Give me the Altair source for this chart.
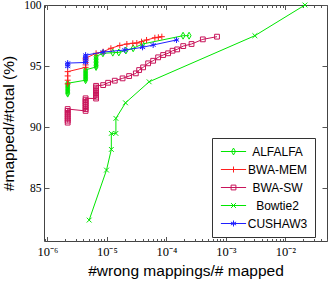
import altair as alt
import pandas as pd

# ---------------- data ----------------
series_names = ["ALFALFA", "BWA-MEM", "BWA-SW", "Bowtie2", "CUSHAW3"]
series_colors = ["#00e600", "#ff1f1f", "#c8145a", "#00e600", "#1f1fff"]

alfalfa_x = [2.2e-6, 2.2e-6, 2.2e-6, 2.2e-6, 2.2e-6, 2.2e-6, 2.2e-6, 2.2e-6,
             4.4e-6, 4.4e-6, 4.4e-6, 4.4e-6, 4.4e-6, 4.4e-6, 4.4e-6, 4.4e-6,
             6.6e-6, 6.6e-6, 6.6e-6, 6.6e-6, 6.6e-6, 6.6e-6, 6.6e-6, 6.6e-6,
             8.6e-6, 1.26e-5, 1.59e-5, 2.09e-5, 2.77e-5, 3.98e-5, 1.91e-4, 2.41e-4]
alfalfa_y = [92.75, 92.87, 92.99, 93.11, 93.23, 93.35, 93.47, 93.60,
             93.85, 93.97, 94.09, 94.21, 94.33, 94.45, 94.57, 94.70,
             94.93, 95.05, 95.17, 95.29, 95.41, 95.53, 95.66, 95.80,
             96.05, 96.10, 96.12, 96.28, 96.46, 96.81, 97.49, 97.49]

bwamem_x = [2.2e-6, 2.2e-6, 2.2e-6, 2.2e-6,
            4.4e-6, 4.4e-6, 4.4e-6, 4.4e-6, 4.4e-6,
            6.6e-6, 8.67e-6, 1.17e-5, 1.65e-5, 2.17e-5, 2.73e-5, 3.19e-5,
            3.83e-5, 4.65e-5, 6.41e-5, 7.34e-5, 8.4e-5]
bwamem_y = [93.55, 93.85, 94.20, 94.55,
            94.90, 95.10, 95.30, 95.50, 95.65,
            96.05, 96.18, 96.46, 96.69, 96.81, 96.87, 96.89,
            97.00, 97.14, 97.32, 97.36, 97.41]

bwasw_x = [2.2e-6, 2.2e-6, 2.2e-6, 2.2e-6, 2.2e-6, 2.2e-6, 2.2e-6, 2.2e-6,
           4.4e-6, 4.4e-6, 4.4e-6, 4.4e-6, 4.4e-6, 4.4e-6, 4.4e-6, 4.4e-6,
           6.6e-6, 6.6e-6, 6.6e-6, 6.6e-6, 6.6e-6, 6.6e-6, 6.6e-6, 6.6e-6,
           8.67e-6, 1.05e-5, 1.36e-5, 1.84e-5, 2.37e-5, 3.07e-5, 3.49e-5,
           4.07e-5, 4.94e-5, 6.0e-5, 7.28e-5, 8.83e-5, 1.07e-4, 1.27e-4,
           1.52e-4, 1.92e-4, 2.65e-4, 4.1e-4, 7.1e-4]
bwasw_y = [90.38, 90.54, 90.70, 90.86, 91.02, 91.18, 91.34, 91.49,
           91.34, 91.49, 91.64, 91.79, 91.94, 92.08, 92.22, 92.37,
           92.35, 92.50, 92.65, 92.80, 92.95, 93.10, 93.25, 93.39,
           93.45, 93.64, 93.81, 94.00, 94.19, 94.41, 94.68,
           94.90, 95.23, 95.44, 95.72, 95.91, 96.05, 96.26,
           96.37, 96.64, 96.81, 97.19, 97.41]

bowtie2_x = [5.05e-6, 9.88e-6, 1.19e-5, 1.19e-5, 1.42e-5, 1.42e-5,
             2.06e-5, 5.14e-5, 3.07e-3, 2.13e-2]
bowtie2_y = [82.41, 86.50, 88.19, 89.50, 89.50, 90.73,
             92.00, 93.72, 97.49, 100.0]

cushaw3_x = [2.2e-6, 2.2e-6, 2.2e-6,
             4.4e-6, 4.4e-6, 4.4e-6, 4.4e-6, 4.4e-6,
             8.67e-6, 2.01e-5, 3.98e-5, 6.0e-5, 1.48e-4]
cushaw3_y = [94.98, 95.12, 95.25,
             95.30, 95.45, 95.60, 95.75, 95.90,
             96.15, 96.32, 96.54, 96.73, 97.14]

x_tick_values = [1e-6, 1e-5, 1e-4, 1e-3, 1e-2]
x_tick_labels = ["10⁻⁶", "10⁻⁵", "10⁻⁴", "10⁻³", "10⁻²"]
y_tick_values = [85, 90, 95, 100]

x_domain = [8.8e-7, 0.05]
y_domain = [80.7, 100]

# ---------------- styling ----------------
marker_paths = [
    "M0,-1.15L0.65,0L0,1.15L-0.65,0Z",                              # diamond
    "M-1,0L1,0M0,-1L0,1",                                             # plus
    "M-0.8,-0.8L0.8,-0.8L0.8,0.8L-0.8,0.8Z",                          # square
    "M-0.8,-0.8L0.8,0.8M-0.8,0.8L0.8,-0.8",                           # x
    "M0,-1L0,1M-0.87,-0.5L0.87,0.5M-0.87,0.5L0.87,-0.5",              # asterisk
]
legend_paths = ["M-4.2,0L4.2,0" + p for p in marker_paths]

minor_vals = [k * 10.0 ** e for e in range(-7, -1) for k in range(2, 10)
              if x_domain[0] <= k * 10.0 ** e <= x_domain[1]]

all_x = [alfalfa_x, bwamem_x, bwasw_x, bowtie2_x, cushaw3_x]
all_y = [alfalfa_y, bwamem_y, bwasw_y, bowtie2_y, cushaw3_y]
rows = []
for name, xs, ys in zip(series_names, all_x, all_y):
    for i, (a, b) in enumerate(zip(xs, ys)):
        rows.append({"series": name, "x": a, "y": b, "idx": i})
df = pd.DataFrame(rows)

label_expr = "[" + ",".join("'%s'" % s for s in x_tick_labels) + "][round(log(datum.value)/LN10) + 6]"

xscale = alt.Scale(type="log", domain=x_domain, nice=False)
yscale = alt.Scale(domain=y_domain, nice=False, zero=False)
cscale = alt.Scale(domain=series_names, range=series_colors)

TICK = "#555555"
LABEL_FONT = "Liberation Serif"
TITLE_FONT = "Liberation Sans"

x_main = alt.Axis(values=x_tick_values, labelExpr=label_expr, orient="bottom",
                  offset=-4.5, tickSize=4.5, domain=False, grid=False,
                  labelPadding=4, labelFlush=False, labelOverlap=False,
                  labelFont=LABEL_FONT, labelFontSize=12.5, labelColor="black",
                  tickColor=TICK, title="#wrong mappings/# mapped",
                  titleFont=TITLE_FONT, titleFontSize=15.5, titleFontWeight="normal",
                  titleColor="black", titlePadding=6)
y_main = alt.Axis(values=y_tick_values, orient="left", offset=-5, tickSize=5,
                  domain=False, grid=False, labelPadding=3,
                  labelFont=LABEL_FONT, labelFontSize=11.5, labelColor="black",
                  tickColor=TICK, title="#mapped/#total (%)",
                  titleFont=TITLE_FONT, titleFontSize=15.5, titleFontWeight="normal",
                  titleColor="black", titlePadding=7.5)
x_top = alt.Axis(values=x_tick_values, orient="top", offset=-4.5, tickSize=4.5,
                 domain=False, grid=False, labels=False, title=None, tickColor=TICK)
y_right = alt.Axis(values=y_tick_values, orient="right", offset=-5, tickSize=5,
                   domain=False, grid=False, labels=False, title=None, tickColor=TICK)
x_minor_b = alt.Axis(values=minor_vals, orient="bottom", offset=-2.5, tickSize=2.5,
                     domain=False, grid=False, labels=False, title=None, tickColor=TICK)
x_minor_t = alt.Axis(values=minor_vals, orient="top", offset=-2.5, tickSize=2.5,
                     domain=False, grid=False, labels=False, title=None, tickColor=TICK)

base = alt.Chart(df)

series_layers = []
for k, (name, col, path) in enumerate(zip(series_names, series_colors, marker_paths)):
    series_layers.append(
        base.transform_filter(alt.datum.series == name).mark_line(
            strokeWidth=1, color=col,
            point=alt.OverlayMarkDef(filled=False, strokeWidth=1, size=36, opacity=1,
                                     shape=path, color=col),
        ).encode(
            x=alt.X("x:Q", scale=xscale, axis=x_main if k == 0 else None),
            y=alt.Y("y:Q", scale=yscale, axis=y_main if k == 0 else None),
            order=alt.Order("idx:Q"),
        )
    )

empty = base.transform_filter("false")
frame_ticks = empty.mark_point(opacity=0).encode(
    x=alt.X("x:Q", scale=xscale, axis=x_top),
    y=alt.Y("y:Q", scale=yscale, axis=y_right),
)
minor_b = empty.mark_point(opacity=0).encode(
    x=alt.X("x:Q", scale=xscale, axis=x_minor_b),
    y=alt.Y("y:Q", scale=yscale, axis=None),
)
minor_t = empty.mark_point(opacity=0).encode(
    x=alt.X("x:Q", scale=xscale, axis=x_minor_t),
    y=alt.Y("y:Q", scale=yscale, axis=None),
)

leg = alt.Legend(orient="none", legendX=168, legendY=133, title=None,
                 padding=7.5, symbolOffset=8, labelAlign="center", labelOffset=38,
                 labelFont=TITLE_FONT, labelFontSize=12, labelColor="black",
                 rowPadding=6, symbolStrokeWidth=1, symbolSize=36, symbolOpacity=1,
                 fillColor="white", strokeColor="#333333")

legend_layer = empty.mark_point(filled=False, strokeWidth=1, size=36, opacity=1).encode(
    color=alt.Color("series:N", scale=cscale, legend=leg),
    shape=alt.Shape("series:N", scale=alt.Scale(domain=series_names, range=legend_paths), legend=leg),
)

chart = alt.layer(*series_layers, frame_ticks, minor_b, minor_t, legend_layer).resolve_axis(
    x="independent", y="independent"
).properties(
    width=283, height=236,
    padding={"left": 44, "top": 5, "right": 4, "bottom": 43},
    autosize=alt.AutoSizeParams(type="none"),
).configure_view(stroke="#444444", strokeWidth=1)

chart.save("out.html", embed_options={"renderer": "svg", "actions": False})
